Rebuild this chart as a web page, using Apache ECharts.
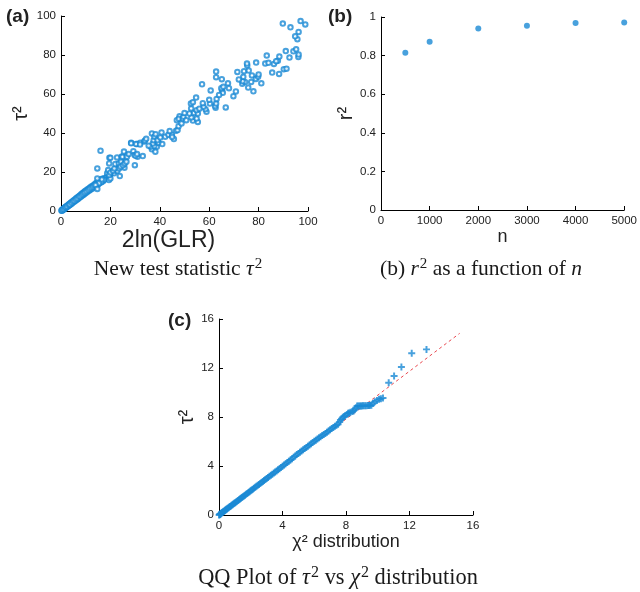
<!DOCTYPE html>
<html>
<head>
<meta charset="utf-8">
<script src="https://cdn.jsdelivr.net/npm/echarts@6/dist/echarts.min.js"></script>
<style>
  html, body { margin: 0; padding: 0; background: #fff; }
  #chart { width: 640px; height: 592px; }
</style>
</head>
<body>
<div id="chart"></div>
<script>
// (a) tau^2 against 2ln(GLR), one point per simulated sample
const glrVsTau = [
  [0.2,0.2],[0.4,0.5],[0.5,0.3],[0.7,0.8],[0.9,0.7],[1.0,1.2],[1.2,0.9],[1.4,1.5],[1.5,1.2],[1.7,1.9],
  [1.9,1.6],[2.1,2.3],[2.2,1.9],[2.4,2.6],[2.6,2.2],[2.8,3.0],[3.0,2.6],[3.1,3.3],[3.3,2.9],[3.5,3.7],
  [3.7,3.2],[3.9,4.1],[4.0,3.6],[4.2,4.5],[4.4,3.9],[4.6,4.8],[4.8,4.3],[5.0,5.3],[5.2,4.7],[5.4,5.6],
  [5.6,5.0],[5.8,6.0],[6.0,5.5],[6.2,6.5],[6.4,5.8],[6.6,6.9],[6.8,6.2],[7.0,7.2],[7.2,6.6],[7.4,7.7],
  [7.6,7.0],[7.8,8.1],[8.0,7.3],[8.2,8.6],[8.4,7.8],[8.6,9.0],[8.8,8.1],[9.0,9.4],[9.2,8.5],[9.4,9.8],
  [9.6,8.9],[9.8,10.2],[10.0,9.3],[10.3,10.6],[10.5,9.6],[10.8,11.1],[11.0,10.2],[11.3,11.5],[11.5,10.5],[11.8,12.1],
  [12.0,11.0],[12.3,12.6],[12.6,11.4],[12.9,13.0],[13.2,12.0],[13.5,13.6],[13.8,12.5],[14.1,14.2],[14.4,13.0],[14.7,14.8],
  [15.0,13.6],[15.3,15.4],[15.6,14.2],[16.0,16.0],[16.3,14.8],[16.7,16.5],[17.0,15.2],[17.5,16.8],[0.3,0.1],[0.6,0.6],
  [1.1,1.0],[1.6,1.7],[2.0,2.0],[2.5,2.4],[3.2,3.1],[3.6,3.4],[4.3,4.2],[4.9,5.0],[5.5,5.3],[6.1,6.0],
  [6.7,6.5],[7.3,7.3],[7.9,7.6],[8.5,8.3],[9.1,9.0],[9.7,9.5],[10.4,10.1],[11.1,10.8],[11.7,11.5],[12.4,12.0],
  [13.0,12.6],[13.6,13.2],[14.3,13.9],[15.1,14.6],[15.8,15.3],
  [17.3,16.2],[18.0,16.6],[18.5,17.5],[19.0,18.0],[19.5,17.0],[20.0,18.8],[20.5,19.5],[21.0,20.2],[21.5,19.3],[22.0,21.0],
  [22.8,20.5],[23.5,21.8],[18.7,19.3],[19.4,15.9],[20.0,16.7],[17.3,15.9],[16.3,15.0],[16.5,16.2],[14.7,21.8],[14.7,16.7],
  [15.3,14.2],[14.0,13.3],[14.7,11.3],[19.1,21.0],[19.5,18.4],[20.0,19.8],[21.1,20.6],[21.6,21.8],[23.8,17.9],
  [16.0,30.9],[19.6,27.3],[22.7,27.5],[24.6,27.9],[26.4,28.7],[26.0,25.8],[24.0,24.4],[25.3,23.5],
  [20.0,27.3],[19.5,24.4],[22.0,24.1],[23.4,24.4],[24.3,25.3],[25.7,22.2],[24.1,22.7],[25.1,23.5],[25.8,24.4],[26.5,25.3],
  [24.9,27.8],[25.5,30.5],[26.7,27.8],[27.4,29.2],[29.9,23.5],[31.0,27.8],[29.3,30.7],[29.8,28.7],[30.2,28.3],[30.8,29.2],
  [33.1,28.2],[28.4,35.0],[30.8,34.3],[32.1,35.0],[33.7,35.7],[36.8,31.7],[36.4,32.9],[38.8,32.9],[38.2,30.4],[37.8,33.3],
  [37.2,34.6],[36.8,39.8],[37.5,36.3],[37.8,38.1],[38.3,39.4],[39.5,35.0],[39.1,36.3],[41.0,34.3],[40.2,37.7],[40.7,40.3],
  [42.2,38.1],[43.5,39.1],[44.9,39.1],[45.7,36.9],[46.6,41.1],[47.2,41.5],[47.6,43.5],[46.9,46.6],[48.0,48.6],[47.7,47.3],
  [48.8,44.9],[49.3,47.4],[49.6,48.3],[50.7,46.6],[53.4,46.4],[55.4,45.7],[54.9,47.4],[52.8,48.0],[52.0,50.0],[52.7,52.6],
  [53.9,50.3],[55.4,50.0],[54.9,51.7],[52.6,55.1],[53.4,55.8],[54.7,58.2],[58.9,50.9],[58.5,52.2],[57.7,53.4],[57.4,55.3],
  [57.1,65.0],[60.3,55.1],[62.6,52.9],[62.4,53.8],[62.8,55.1],[60.6,61.8],[65.1,67.6],[62.8,68.6],[62.8,71.5],[66.7,53.1],
  [65.2,61.9],[65.5,60.6],[64.9,63.0],[65.7,63.7],[67.6,65.5],[69.8,58.9],[70.8,61.3],[71.4,71.3],[75.8,63.3],[73.4,65.2],
  [74.5,66.2],[73.5,66.6],[73.8,68.8],[74.1,71.7],[75.4,74.6],[75.3,75.6],[77.9,61.4],[77.0,66.2],[77.3,69.5],[78.9,67.7],
  [79.0,76.1],[79.8,68.9],[81.1,65.5],[82.7,75.6],[83.3,79.7],[87.8,77.1],[86.2,75.4],[87.1,76.8],[88.4,79.2],[88.3,70.3],
  [90.2,72.7],[91.3,73.0],[92.5,78.7],[96.1,79.0],[96.2,80.2],[94.1,81.9],[95.2,82.9],[95.7,88.1],[96.2,91.8],[94.8,89.6],
  [92.9,94.2],[98.9,95.7],[97.0,97.4],[89.8,96.1],
  [28.4,34.7],[30.4,34.3],[32.0,34.1],[34.0,36.1],[35.5,33.5],[34.5,37.0],[44.0,41.0],[45.0,38.0],[50.0,50.2],[56.0,52.5],
  [60.0,57.0],[63.0,57.5],[64.0,59.5],[68.0,63.0],[72.0,67.5],[76.0,72.0],[80.0,70.0],[84.0,76.0],[85.5,71.0],[91.0,82.0]
];

// (b) r^2 for increasing sample size n
const sampleSizes = [500, 1000, 2000, 3000, 4000, 5000];
const rSquared = [0.815, 0.872, 0.940, 0.955, 0.969, 0.972];

// (c) QQ pairs: chi-square quantile, ordered tau^2
const qqChi = [
  0.01,0.03,0.05,0.07,0.09,0.11,0.14,0.17,0.2,0.23,0.26,0.3,0.34,0.38,0.42,0.46,0.5,0.55,0.6,0.65,
  0.7,0.75,0.8,0.85,0.9,0.96,1.02,1.08,1.14,1.2,1.26,1.32,1.38,1.44,1.5,1.57,1.64,1.71,1.78,1.85,
  1.92,1.99,2.06,2.13,2.2,2.28,2.36,2.44,2.52,2.6,2.68,2.76,2.84,2.92,3.0,3.09,3.18,3.27,3.36,3.45,
  3.54,3.63,3.72,3.81,3.9,4.0,4.1,4.2,4.3,4.4,4.5,4.6,4.7,4.8,4.9,5.0,5.1,5.2,5.3,5.4,
  5.5,5.6,5.7,5.8,5.9,6.0,6.1,6.2,6.3,6.4,6.5,6.6,6.7,6.8,6.9,7.0,7.1,7.2,7.3,7.4,
  7.5,7.6,7.65,7.72,7.8,7.88,7.95,8.05,8.13,8.2,8.28,8.4,8.48,8.55,8.62,8.7,8.78,8.85,8.92,8.97,
  9.05,9.1,9.2,9.29,9.38,9.45,9.52,9.6,9.7,9.81,9.95,10.08,10.2,10.33,10.69,11.03,11.49,12.14,13.07
];
const qqTau = [
  0.01,0.03,0.05,0.07,0.09,0.11,0.14,0.17,0.2,0.23,0.26,0.3,0.33,0.38,0.41,0.46,0.49,0.55,0.59,0.65,
  0.69,0.74,0.79,0.84,0.89,0.95,1.01,1.07,1.13,1.19,1.25,1.31,1.37,1.43,1.49,1.56,1.62,1.69,1.76,1.83,
  1.9,1.97,2.04,2.11,2.18,2.26,2.34,2.42,2.5,2.58,2.66,2.74,2.82,2.9,2.98,3.07,3.16,3.25,3.33,3.42,
  3.51,3.6,3.69,3.78,3.88,3.98,4.08,4.18,4.28,4.39,4.49,4.6,4.71,4.82,4.93,5.03,5.13,5.22,5.32,5.42,
  5.52,5.62,5.72,5.82,5.92,6.02,6.11,6.21,6.3,6.39,6.48,6.57,6.66,6.76,6.86,6.96,7.06,7.15,7.25,7.33,
  7.4,7.6,7.76,7.85,7.97,8.05,8.1,8.2,8.3,8.33,8.38,8.44,8.5,8.6,8.75,8.9,8.9,8.9,8.9,8.9,
  8.91,8.92,8.92,8.92,8.93,8.94,8.95,8.95,9.1,9.25,9.35,9.44,9.5,9.55,10.8,11.35,12.08,13.2,13.52
];
// reference line of the QQ plot
const refLine = [[0, 0], [15.16, 14.83]];

const blue = '#1a8ad4';
const ink = '#1a1a1a';
const sans = 'Liberation Sans, Arial, sans-serif';
const serif = 'Liberation Serif, Times New Roman, serif';
const plainNumber = v => String(v);

function axisBase(extra) {
  return Object.assign({
    axisLine: { show: true, onZero: false, lineStyle: { color: '#000', width: 1 } },
    axisTick: { show: true, inside: true, length: 4, lineStyle: { color: '#000' } },
    axisLabel: { color: '#222', fontFamily: sans, fontSize: 11.5, margin: 5, formatter: plainNumber },
    splitLine: { show: false },
    nameLocation: 'middle',
    nameTextStyle: { color: '#222', fontFamily: sans, fontSize: 18 }
  }, extra);
}

function caption(text, x, y, size) {
  const sup = Math.round(size * 0.7);
  return {
    text: text, left: x, top: y, padding: 0, textAlign: 'center',
    textStyle: {
      fontFamily: serif, fontSize: size, fontWeight: 'normal', color: ink,
      rich: {
        i: { fontFamily: serif, fontStyle: 'italic', fontWeight: 'normal', fontSize: size, color: ink },
        s: { fontFamily: serif, fontWeight: 'normal', fontSize: sup, color: ink, verticalAlign: 'top', padding: [0, 0, 10, 1] }
      }
    }
  };
}

function panelTag(text, x, y) {
  return { text: text, left: x, top: y, padding: 0,
    textStyle: { fontFamily: sans, fontWeight: 'bold', fontSize: 19, color: '#222' } };
}

const chart = echarts.init(document.getElementById('chart'), null, { renderer: 'canvas' });

const plusPath = 'path://M3.6,0H6.4V3.6H10V6.4H6.4V10H3.6V6.4H0V3.6H3.6Z';

chart.setOption({
  animation: false,
  backgroundColor: '#fff',
  title: [
    panelTag('(a)', 6, 7),
    panelTag('(b)', 328, 7),
    panelTag('(c)', 168, 311),
    caption('New test statistic {i|τ}{s|2}', 178, 257, 21.5),
    caption('(b) {i|r}{s|2} as a function of {i|n}', 481, 257, 21.5),
    caption('QQ Plot of {i|τ}{s|2} vs {i|χ}{s|2} distribution', 338, 565, 22.4)
  ],
  grid: [
    { left: 61, top: 16, width: 247, height: 195, containLabel: false },
    { left: 381, top: 17, width: 247, height: 193, containLabel: false },
    { left: 219, top: 319, width: 254, height: 196, containLabel: false }
  ],
  xAxis: [
    axisBase({ gridIndex: 0, type: 'value', min: 0, max: 100, interval: 20, name: '2ln(GLR)', nameGap: 12,
      nameTextStyle: { color: '#222', fontFamily: sans, fontSize: 23, padding: [0, 32, 0, 0] } }),
    axisBase({ gridIndex: 1, type: 'value', min: 0, max: 5000, interval: 1000, name: 'n', nameGap: 14 }),
    axisBase({ gridIndex: 2, type: 'value', min: 0, max: 16, interval: 4, name: 'χ² distribution', nameGap: 14 })
  ],
  yAxis: [
    axisBase({ gridIndex: 0, type: 'value', min: 0, max: 100, interval: 20, name: 'τ²', nameGap: 30, nameRotate: 90,
      nameTextStyle: { color: '#222', fontFamily: sans, fontSize: 20 } }),
    axisBase({ gridIndex: 1, type: 'value', min: 0, max: 1, interval: 0.2, name: 'r²', nameGap: 24, nameRotate: 90,
      nameTextStyle: { color: '#222', fontFamily: sans, fontSize: 20 } }),
    axisBase({ gridIndex: 2, type: 'value', min: 0, max: 16, interval: 4, name: 'τ²', nameGap: 22, nameRotate: 90,
      nameTextStyle: { color: '#222', fontFamily: sans, fontSize: 20 } })
  ],
  series: [
    {
      type: 'scatter', xAxisIndex: 0, yAxisIndex: 0,
      data: glrVsTau,
      symbol: 'emptyCircle', symbolSize: 4.5,
      itemStyle: { color: blue, borderColor: blue, borderWidth: 1 }
    },
    {
      type: 'scatter', xAxisIndex: 1, yAxisIndex: 1,
      data: sampleSizes.map((n, i) => [n, rSquared[i]]),
      symbol: 'circle', symbolSize: 6,
      itemStyle: { color: blue }
    },
    {
      type: 'line', xAxisIndex: 2, yAxisIndex: 2,
      data: refLine, symbol: 'none',
      lineStyle: { color: '#e8484f', width: 1, type: [3, 3] },
      z: 1
    },
    {
      type: 'scatter', xAxisIndex: 2, yAxisIndex: 2,
      data: qqChi.map((c, i) => [c, qqTau[i]]),
      symbol: plusPath, symbolSize: 7,
      itemStyle: { color: blue },
      z: 2
    }
  ]
});
</script>
</body>
</html>
